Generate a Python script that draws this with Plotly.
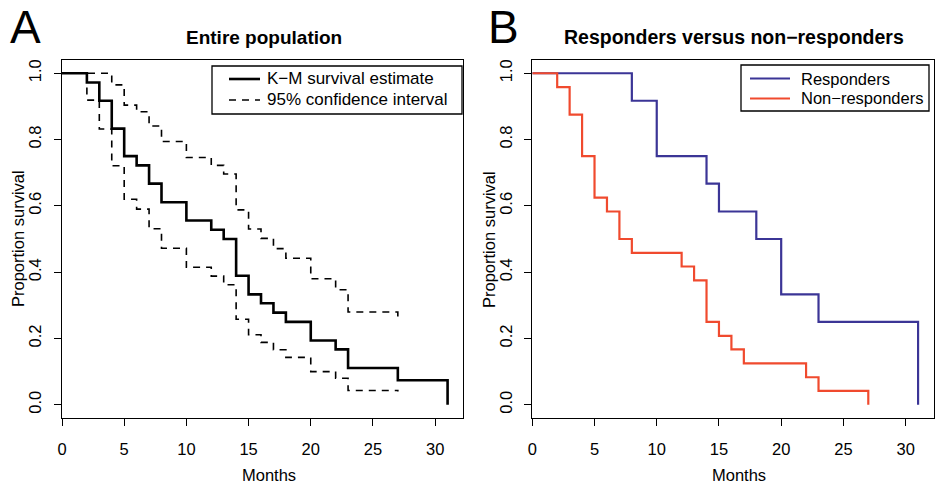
import plotly.graph_objects as go

# ---------------- data ----------------
km_months = [0, 2, 3, 4, 5, 6, 7, 8, 10, 12, 13, 14, 15, 16, 17, 18, 20, 22, 23, 27, 31]
km_surv = [1.0, 0.972, 0.917, 0.833, 0.750, 0.722, 0.667, 0.611, 0.556, 0.528, 0.500,
           0.389, 0.333, 0.306, 0.278, 0.250, 0.194, 0.167, 0.111, 0.074, 0.0]

ci_months = [0, 2, 3, 4, 5, 6, 7, 8, 10, 12, 13, 14, 15, 16, 17, 18, 20, 22, 23, 27]
ci_upper = [1.0, 1.0, 1.0, 0.965, 0.904, 0.884, 0.841, 0.794, 0.746, 0.722, 0.696,
            0.588, 0.530, 0.502, 0.471, 0.442, 0.380, 0.347, 0.280, 0.255]
ci_lower = [1.0, 0.919, 0.832, 0.721, 0.620, 0.590, 0.531, 0.472, 0.415, 0.388, 0.362,
            0.258, 0.211, 0.188, 0.166, 0.143, 0.100, 0.080, 0.043, 0.040]

resp_months = [0, 8, 10, 14, 15, 18, 20, 23, 31]
resp_surv = [1.0, 0.917, 0.750, 0.667, 0.583, 0.500, 0.333, 0.250, 0.0]

nonresp_months = [0, 2, 3, 4, 5, 6, 7, 8, 12, 13, 14, 15, 16, 17, 22, 23, 27]
nonresp_surv = [1.0, 0.958, 0.875, 0.750, 0.625, 0.583, 0.500, 0.458, 0.417, 0.375,
                0.250, 0.208, 0.167, 0.125, 0.083, 0.042, 0.0]

x_ticks = [0, 5, 10, 15, 20, 25, 30]
y_ticks = [0.0, 0.2, 0.4, 0.6, 0.8, 1.0]
y_ticklabels = ["0.0", "0.2", "0.4", "0.6", "0.8", "1.0"]

legend_a_labels = ["K\u2212M survival estimate", "95% confidence interval"]
legend_b_labels = ["Responders", "Non\u2212responders"]

# ---------------- style ----------------
FONT = "Liberation Sans, Arial, Helvetica, sans-serif"
W, H = 935, 484
BLUE = "#3b3596"
RED = "#f04a2e"
DASH = "7px,6px"
KM_W, CI_W, GRP_W = 2.6, 1.6, 2.2


def px_x(p):
    return p / W


def px_y(p):
    return 1 - p / H


fig = go.Figure()

# Panel A
fig.add_trace(go.Scatter(x=km_months, y=km_surv, mode="lines", line_shape="hv",
                         line=dict(color="black", width=KM_W),
                         name=legend_a_labels[0], xaxis="x", yaxis="y"))
fig.add_trace(go.Scatter(x=ci_months, y=ci_upper, mode="lines", line_shape="hv",
                         line=dict(color="black", width=CI_W, dash=DASH),
                         name=legend_a_labels[1] + " (upper)", xaxis="x", yaxis="y"))
fig.add_trace(go.Scatter(x=ci_months, y=ci_lower, mode="lines", line_shape="hv",
                         line=dict(color="black", width=CI_W, dash=DASH),
                         name=legend_a_labels[1] + " (lower)", xaxis="x", yaxis="y"))

# Panel B
fig.add_trace(go.Scatter(x=resp_months, y=resp_surv, mode="lines", line_shape="hv",
                         line=dict(color=BLUE, width=GRP_W),
                         name=legend_b_labels[0], xaxis="x2", yaxis="y2"))
fig.add_trace(go.Scatter(x=nonresp_months, y=nonresp_surv, mode="lines", line_shape="hv",
                         line=dict(color=RED, width=GRP_W),
                         name=legend_b_labels[1], xaxis="x2", yaxis="y2"))

ydom = [px_y(418), px_y(60)]

axis_common = dict(showgrid=False, zeroline=False, showline=True, mirror=True,
                   automargin=False,
                   linecolor="black", linewidth=1.3, ticks="outside", ticklen=7,
                   tickwidth=1.3, tickcolor="black",
                   tickfont=dict(family=FONT, size=16.5, color="black"))

xa = dict(axis_common, range=[0, 32.24], tickvals=x_ticks, ticklabelstandoff=9)
ya = dict(axis_common, range=[-0.04, 1.04], tickvals=y_ticks, ticktext=y_ticklabels,
          tickangle=-90, ticklabelstandoff=6, domain=ydom)

fig.update_layout(
    width=W, height=H,
    margin=dict(l=0, r=0, t=0, b=0),
    paper_bgcolor="white", plot_bgcolor="white",
    xaxis=dict(xa, domain=[px_x(62), px_x(463)], anchor="y"),
    yaxis=dict(ya, anchor="x"),
    xaxis2=dict(xa, domain=[px_x(532.3), px_x(933.5)], anchor="y2"),
    yaxis2=dict(ya, anchor="x2"),
    showlegend=False,
)


# ---------------- manual legends (box, samples, text) ----------------
def legend_box(x0, y0, x1, y1, rows, line_x0, line_x1, text_x, styles, labels, size):
    fig.add_shape(type="rect", xref="paper", yref="paper",
                  x0=px_x(x0), x1=px_x(x1), y0=px_y(y1), y1=px_y(y0),
                  line=dict(color="black", width=1.3), fillcolor="white", layer="above")
    for ry, st, lab in zip(rows, styles, labels):
        fig.add_shape(type="line", xref="paper", yref="paper",
                      x0=px_x(line_x0), x1=px_x(line_x1), y0=px_y(ry), y1=px_y(ry),
                      line=st, layer="above")
        fig.add_annotation(text=lab, x=px_x(text_x), y=px_y(ry), xref="paper", yref="paper",
                           xanchor="left", yanchor="middle", showarrow=False,
                           font=dict(family=FONT, size=size, color="black"))


legend_box(212, 66, 462, 114, [79, 100], 229, 260, 265,
           [dict(color="black", width=KM_W), dict(color="black", width=CI_W, dash=DASH)],
           legend_a_labels, 17)
legend_box(741, 65, 929, 111, [78.5, 98.5], 750, 790, 799,
           [dict(color=BLUE, width=GRP_W), dict(color=RED, width=GRP_W)],
           legend_b_labels, 16.5)

annos = [
    dict(text="A", x=px_x(25), y=px_y(27), size=46),
    dict(text="B", x=px_x(503), y=px_y(27), size=46),
    dict(text="<b>Entire population</b>", x=px_x(264), y=px_y(37), size=19),
    dict(text="<b>Responders versus non\u2212responders</b>", x=px_x(734), y=px_y(37), size=19.5),
    dict(text="Months", x=px_x(269), y=px_y(475), size=16.5),
    dict(text="Months", x=px_x(739), y=px_y(475), size=16.5),
]
for a in annos:
    fig.add_annotation(text=a["text"], x=a["x"], y=a["y"], xref="paper", yref="paper",
                       xanchor="center", yanchor="middle", showarrow=False,
                       font=dict(family=FONT, size=a["size"], color="black"))

for xc in (18, 489):
    fig.add_annotation(text="Proportion survival", x=px_x(xc), y=px_y(239),
                       xref="paper", yref="paper", xanchor="center", yanchor="middle",
                       showarrow=False, textangle=-90,
                       font=dict(family=FONT, size=16.5, color="black"))

fig.write_html("out.html")
